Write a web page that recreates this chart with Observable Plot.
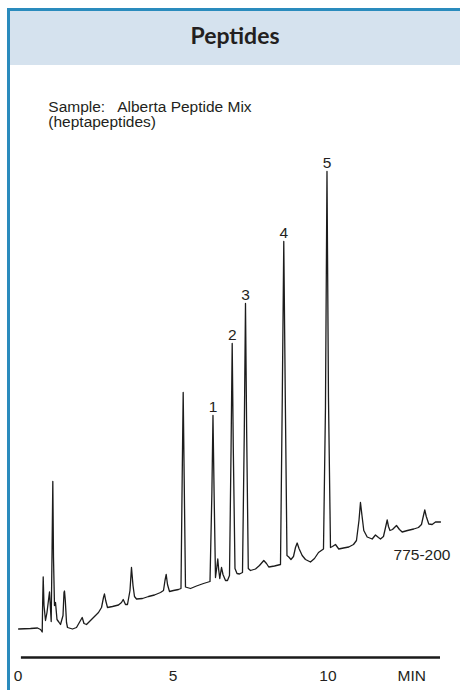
<!DOCTYPE html>
<html><head><meta charset="utf-8">
<script src="https://cdn.jsdelivr.net/npm/d3@7"></script>
<script src="https://cdn.jsdelivr.net/npm/@observablehq/plot@0.6"></script>
<style>
html,body{margin:0;padding:0;background:#fff;}
body{width:460px;height:690px;overflow:hidden;position:relative;font-family:"Liberation Sans",Arial,sans-serif;}
#frame{position:absolute;left:7px;top:8px;right:0;bottom:0;border-top:3px solid #2a8bbd;border-left:3px solid #2a8bbd;}
#header{position:absolute;left:0;right:0;top:0;height:54px;background:#d5e2ee;}
#title{position:absolute;left:0;right:0;top:12.5px;text-align:center;font-family:Lato,"Open Sans",sans-serif;font-weight:700;font-size:23px;line-height:23px;color:#231f20;}
#sample{position:absolute;left:48.3px;top:98.8px;font-size:15.5px;line-height:15px;color:#231f20;white-space:pre;}
#chart{position:absolute;left:0;top:0;}
</style>
</head><body>
<div id="frame"><div id="header"><div id="title">Peptides</div></div></div>
<div id="sample">Sample:   Alberta Peptide Mix
(heptapeptides)</div>
<div id="chart"></div>
<script>
// retention time (min)
const times = [0.02,0.403,0.629,0.726,0.781,0.797,0.813,0.839,0.887,0.935,0.990,1.016,1.042,1.071,1.100,1.123,1.145,1.177,1.210,1.258,
1.316,1.371,1.452,1.484,1.500,1.526,1.565,1.597,1.758,1.887,2.016,2.071,2.129,2.210,2.403,2.597,2.694,2.758,2.790,2.829,
2.887,3.048,3.242,3.339,3.394,3.468,3.532,3.613,3.661,3.710,3.758,3.823,4.016,4.210,4.403,4.597,4.694,4.742,4.781,4.823,
4.887,5.016,5.177,5.258,5.297,5.329,5.361,5.403,5.565,5.758,5.984,6.194,6.255,6.290,6.326,6.371,6.413,6.445,6.477,6.510,
6.539,6.565,6.613,6.694,6.758,6.823,6.874,6.910,6.945,7.000,7.065,7.145,7.242,7.300,7.339,7.377,7.429,7.500,7.661,7.790,
7.929,8.016,8.090,8.274,8.468,8.526,8.574,8.623,8.677,8.735,8.806,8.887,8.952,9.006,9.065,9.168,9.274,9.435,9.565,9.694,
9.855,9.919,9.968,10.016,10.081,10.145,10.242,10.348,10.500,10.671,10.823,10.919,11.000,11.048,11.097,11.155,11.265,11.426,11.532,11.629,
11.694,11.790,11.871,11.910,11.952,12.000,12.081,12.210,12.306,12.394,12.565,12.768,12.919,13.016,13.081,13.123,13.171,13.252,13.361,13.468,
13.629];
// detector response (arbitrary units)
const signal = [5.7,5.8,5.9,5.6,5.1,11.4,16.1,10.4,7.4,9.0,11.8,13.1,10.4,7.2,22.0,35.2,20.0,10.4,11.0,7.6,
7.1,6.6,8.4,13.0,13.3,11.4,7.0,6.0,5.7,6.0,7.4,8.0,6.8,6.6,7.8,9.0,10.0,12.0,12.7,11.4,
10.0,10.2,10.5,11.0,11.6,10.6,10.6,13.4,18.0,14.4,12.2,11.7,11.8,12.2,12.5,13.0,13.4,15.4,16.6,14.6,
13.2,13.4,13.6,13.8,36.0,53.0,36.0,14.1,13.8,14.3,14.8,15.2,33.0,48.4,33.0,16.0,18.0,19.7,17.4,15.8,
17.0,18.0,16.6,15.4,15.4,16.4,42.0,62.8,42.0,17.8,16.8,16.7,17.0,45.0,70.8,45.0,17.8,17.4,17.7,18.4,
19.4,18.8,18.1,18.3,18.6,52.0,83.2,52.0,20.4,20.1,19.6,20.2,22.0,22.9,21.8,20.4,19.6,19.1,19.8,21.0,
21.7,50.0,97.2,52.0,22.0,22.2,22.6,21.7,21.9,22.1,22.6,23.4,27.4,31.0,28.4,25.4,24.1,23.7,24.5,24.0,
23.7,24.2,26.4,27.5,26.2,25.4,25.6,26.4,25.6,25.1,25.4,25.7,26.0,26.6,28.4,29.5,28.2,26.7,26.6,27.1,
27.1];
const peakNames = ["1","2","3","4","5"];
const peakTimes = [6.290, 6.910, 7.339, 8.574, 9.968];
const xTicks = [0, 5, 10];
const unitLabel = "MIN";
const unitLabelTime = 12.7;
const axisExtent = [0.11, 13.63];
const catalogLabel = "775-200";
const catalogPos = [13.95, 20.4];

const trace = times.map((t, i) => ({t, s: signal[i]}));
const peaks = peakNames.map((name, i) => {
  const p = trace.find(d => Math.abs(d.t - peakTimes[i]) < 1e-6);
  return {name, t: p.t, s: p.s};
});

const chart = Plot.plot({
  width: 460, height: 690,
  marginLeft: 17.5, marginRight: 20, marginTop: 157, marginBottom: 33,
  style: {background: "transparent", fontFamily: "'Liberation Sans', Arial, sans-serif", fontSize: "15.5px", color: "#231f20"},
  x: {domain: [0, 13.63], ticks: xTicks, tickSize: 0, tickPadding: 12, label: null},
  y: {domain: [0, 100], axis: null},
  marks: [
    Plot.ruleY([0], {x1: axisExtent[0], x2: axisExtent[1], stroke: "#1a1a1a", strokeWidth: 2.6}),
    Plot.line(trace, {x: "t", y: "s", stroke: "#1c1c1c", strokeWidth: 1.3, strokeLinejoin: "round"}),
    Plot.text(peaks, {x: "t", y: "s", text: "name", lineAnchor: "bottom", dy: -4, fill: "#231f20"}),
    Plot.text([unitLabel], {x: unitLabelTime, y: 0, lineAnchor: "top", dy: 12, fill: "#231f20"}),
    Plot.text([catalogLabel], {x: catalogPos[0], y: catalogPos[1], textAnchor: "end", fill: "#231f20"})
  ]
});
document.getElementById("chart").appendChild(chart);
</script>
</body></html>
